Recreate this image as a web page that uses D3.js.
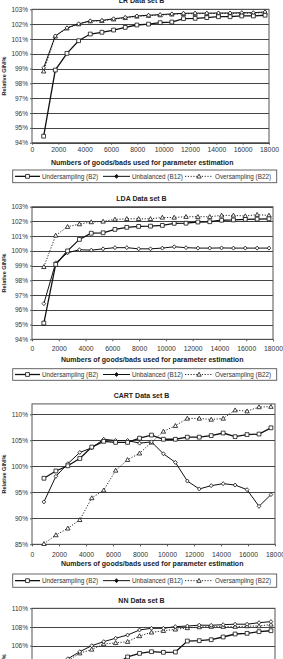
<!DOCTYPE html>
<html><head><meta charset="utf-8">
<script src="https://cdn.jsdelivr.net/npm/d3@7"></script>
<style>
html,body{margin:0;padding:0;background:#fff;overflow:hidden;}
svg{display:block;font-family:"Liberation Sans",Arial,sans-serif;}
</style></head><body>
<svg id="c" width="283" height="659"></svg>
<script>
// ---------- DATA ----------
const xValues = [885, 1770, 2655, 3540, 4425, 5310, 6195, 7080, 7965, 8850, 9735, 10620, 11505, 12390, 13275, 14160, 15045, 15930, 16815, 17700];
const xTicks = [0, 2000, 4000, 6000, 8000, 10000, 12000, 14000, 16000, 18000];
const seriesNames = ["Undersampling (B2)", "Unbalanced (B12)", "Oversampling (B22)"];
const chartTitles = ["LR Data set B", "LDA Data set B", "CART Data set B", "NN Data set B"];
const yAxisTitle = "Relative GINI%";
const xAxisTitle = "Numbers of goods/bads used for parameter estimation";

const lrUnder = [94.44, 98.9, 100.03, 100.88, 101.33, 101.45, 101.6, 101.78, 101.94, 102.0, 102.1, 102.14, 102.37, 102.39, 102.44, 102.5, 102.5, 102.55, 102.55, 102.6];
const lrUnbal = [99.05, 101.2, 101.75, 102.02, 102.22, 102.25, 102.36, 102.45, 102.55, 102.6, 102.64, 102.69, 102.73, 102.74, 102.74, 102.75, 102.75, 102.77, 102.77, 102.82];
const lrOver  = [98.82, 101.18, 101.72, 102.0, 102.2, 102.22, 102.33, 102.42, 102.52, 102.57, 102.61, 102.66, 102.7, 102.71, 102.71, 102.72, 102.72, 102.74, 102.74, 102.78];

const ldaUnder = [95.1, 99.08, 100.0, 100.78, 101.2, 101.23, 101.46, 101.6, 101.66, 101.68, 101.73, 101.87, 101.88, 101.96, 101.98, 102.08, 102.1, 102.14, 102.16, 102.18];
const ldaUnbal = [96.42, 99.19, 99.87, 100.08, 100.05, 100.14, 100.22, 100.22, 100.14, 100.14, 100.19, 100.28, 100.22, 100.19, 100.19, 100.2, 100.19, 100.19, 100.19, 100.19];
const ldaOver  = [98.92, 101.05, 101.64, 101.82, 101.96, 102.0, 102.14, 102.18, 102.18, 102.18, 102.27, 102.27, 102.32, 102.32, 102.32, 102.41, 102.41, 102.37, 102.46, 102.41];

const cartUnder = [97.7, 99.1, 100.1, 101.5, 103.7, 104.8, 104.6, 104.6, 105.4, 106.0, 105.2, 105.2, 105.6, 105.6, 105.9, 106.4, 105.7, 106.1, 106.2, 107.4];
const cartUnbal = [93.15, 98.07, 100.5, 102.66, 103.55, 105.2, 104.96, 104.96, 104.45, 104.7, 102.4, 100.75, 97.17, 95.64, 96.28, 96.66, 96.4, 95.5, 92.3, 94.56];
const cartOver  = [85.1, 86.78, 88.07, 89.7, 93.9, 95.4, 99.2, 101.26, 102.5, 104.6, 106.7, 107.8, 109.2, 109.2, 109.0, 109.2, 110.8, 110.6, 111.4, 111.47];

const nnUnder = [92.5, 96.0, 98.5, 100.4, 101.8, 102.9, 104.0, 104.8, 105.18, 105.36, 105.29, 105.32, 106.5, 106.54, 106.64, 106.93, 107.25, 107.32, 107.5, 107.6];
const nnUnbal = [97.0, 101.5, 104.6, 105.36, 106.0, 106.43, 106.8, 107.14, 107.68, 107.86, 107.86, 108.04, 108.1, 108.2, 108.18, 108.25, 108.3, 108.3, 108.46, 108.57];
const nnOver  = [96.5, 101.2, 104.4, 105.2, 105.6, 106.18, 106.3, 106.43, 107.04, 107.43, 107.6, 107.75, 107.9, 108.0, 108.04, 108.04, 108.04, 108.1, 108.1, 108.28];

const lrYTicks = [94, 95, 96, 97, 98, 99, 100, 101, 102, 103];
const ldaYTicks = [94, 95, 96, 97, 98, 99, 100, 101, 102, 103];
const cartYTicks = [85, 90, 95, 100, 105, 110];
const nnYTicks = [96, 98, 100, 102, 104, 106, 108, 110];

// ---------- LAYOUT ----------
const charts = [
  {title: chartTitles[0], data: [lrUnder, lrUnbal, lrOver], yTicks: lrYTicks, yDomain: [94, 103],
   left: 32, right: 269, top: 9.3, bottom: 142.7, titleY: 3, xTickY: 152.3, xTitleX: 51, xTitleY: 165, legTop: 170, legBot: 182.7},
  {title: chartTitles[1], data: [ldaUnder, ldaUnbal, ldaOver], yTicks: ldaYTicks, yDomain: [94, 103],
   left: 32, right: 273, top: 206.7, bottom: 339.3, titleY: 200.8, xTickY: 351.4, xTitleX: 61, xTitleY: 361.5, legTop: 368.7, legBot: 380.3},
  {title: chartTitles[2], data: [cartUnder, cartUnbal, cartOver], yTicks: cartYTicks, yDomain: [85, 112],
   left: 32, right: 275, top: 403.9, bottom: 544.3, titleY: 398.2, xTickY: 556.7, xTitleX: 61, xTitleY: 566, legTop: 574, legBot: 587.3},
  {title: chartTitles[3], data: [nnUnder, nnUnbal, nnOver], yTicks: nnYTicks, yDomain: [96, 110],
   left: 32, right: 275, top: 608.3, bottom: 739.2, titleY: 603.2, xTickY: 751.6, xTitleX: 61, xTitleY: 761, legTop: 769, legBot: 782}
];

const styles = [
  {shape: "square", width: 1.3, dash: null},
  {shape: "diamond", width: 1.0, dash: null},
  {shape: "triangle", width: 0.9, dash: "1.2,1.6"}
];

const shapePath = {
  square: "M-1.9,-1.9H1.9V1.9H-1.9Z",
  diamond: "M0,-2L1.8,0L0,2L-1.8,0Z",
  triangle: "M0,-2.2L2.2,1.7L-2.2,1.7Z"
};

const svg = d3.select("#c");
const textColor = "#222";

charts.forEach(ch => {
  const g = svg.append("g");
  const x = d3.scaleLinear().domain([0, 18000]).range([ch.left, ch.right]);
  const y = d3.scaleLinear().domain(ch.yDomain).range([ch.bottom, ch.top]);

  // title
  g.append("text").attr("x", 141.5).attr("y", ch.titleY).attr("text-anchor", "middle")
    .attr("font-size", 7).attr("font-weight", "bold").attr("fill", textColor).text(ch.title);

  // gridlines
  g.append("g").selectAll("line").data(ch.yTicks).join("line")
    .attr("x1", ch.left).attr("x2", ch.right)
    .attr("y1", d => Math.round(y(d)) + 0.5).attr("y2", d => Math.round(y(d)) + 0.5)
    .attr("stroke", "#444").attr("stroke-width", 1);

  // frame
  g.append("rect").attr("x", ch.left).attr("y", ch.top)
    .attr("width", ch.right - ch.left).attr("height", ch.bottom - ch.top)
    .attr("fill", "none").attr("stroke", "#555").attr("stroke-width", 1);

  // y axis
  const yAxis = d3.axisLeft(y).tickValues(ch.yTicks).tickSize(2).tickPadding(2).tickFormat(d => d + "%");
  const ya = g.append("g").attr("transform", `translate(${ch.left},0)`).call(yAxis);
  ya.select(".domain").remove();
  ya.selectAll("line").attr("stroke", "#555");
  ya.selectAll("text").attr("font-size", 6.5).attr("fill", "#333").attr("font-family", null);

  // x axis
  const xAxis = d3.axisBottom(x).tickValues(xTicks).tickSize(2).tickPadding(0).tickFormat(d3.format("d"));
  const xa = g.append("g").attr("transform", `translate(0,${ch.bottom})`).call(xAxis);
  xa.select(".domain").remove();
  xa.selectAll("line").attr("stroke", "#555");
  xa.selectAll("text").attr("font-size", 6.8).attr("fill", "#333").attr("font-family", null)
    .attr("dy", null).attr("y", ch.xTickY - ch.bottom);

  // y title
  g.append("text").attr("transform", `translate(6,${(ch.top + ch.bottom) / 2}) rotate(-90)`)
    .attr("text-anchor", "middle").attr("font-size", 5.5).attr("font-weight", "bold")
    .attr("fill", textColor).text(yAxisTitle);

  // x title
  g.append("text").attr("x", ch.xTitleX).attr("y", ch.xTitleY).attr("text-anchor", "start")
    .attr("font-size", 7).attr("font-weight", "bold").attr("fill", textColor).text(xAxisTitle);

  // series lines (oversampling first so undersampling on top)
  const order = [2, 1, 0];
  order.forEach(si => {
    const vals = ch.data[si];
    const st = styles[si];
    const line = d3.line().x((d, i) => x(xValues[i])).y(d => y(d));
    g.append("path").datum(vals).attr("d", line).attr("fill", "none")
      .attr("stroke", "#111").attr("stroke-width", st.width)
      .attr("stroke-dasharray", st.dash);
  });
  order.forEach(si => {
    const vals = ch.data[si];
    const st = styles[si];
    g.append("g").selectAll("path").data(vals).join("path")
      .attr("d", shapePath[st.shape])
      .attr("transform", (d, i) => `translate(${x(xValues[i])},${y(d)})`)
      .attr("fill", "#fff").attr("stroke", "#111").attr("stroke-width", 0.8);
  });

  // legend
  const lg = g.append("g");
  lg.append("rect").attr("x", 12.7).attr("y", ch.legTop).attr("width", 264).attr("height", ch.legBot - ch.legTop)
    .attr("fill", "#fff").attr("stroke", "#555").attr("stroke-width", 0.9);
  const cy = (ch.legTop + ch.legBot) / 2;
  const items = [
    {x1: 15, x2: 40, mx: 27.5, tx: 42},
    {x1: 103, x2: 130, mx: 116.5, tx: 132},
    {x1: 185, x2: 213, mx: 199, tx: 215}
  ];
  items.forEach((it, si) => {
    const st = styles[si];
    lg.append("line").attr("x1", it.x1).attr("x2", it.x2).attr("y1", cy).attr("y2", cy)
      .attr("stroke", "#111").attr("stroke-width", st.width).attr("stroke-dasharray", st.dash);
    lg.append("path").attr("d", shapePath[st.shape]).attr("transform", `translate(${it.mx},${cy})`)
      .attr("fill", si === 1 ? "#111" : "#fff").attr("stroke", "#111").attr("stroke-width", 0.8);
    lg.append("text").attr("x", it.tx).attr("y", cy + 2.2).attr("font-size", 6.3)
      .attr("fill", "#333").text(seriesNames[si]);
  });
});
</script>
</body></html>
